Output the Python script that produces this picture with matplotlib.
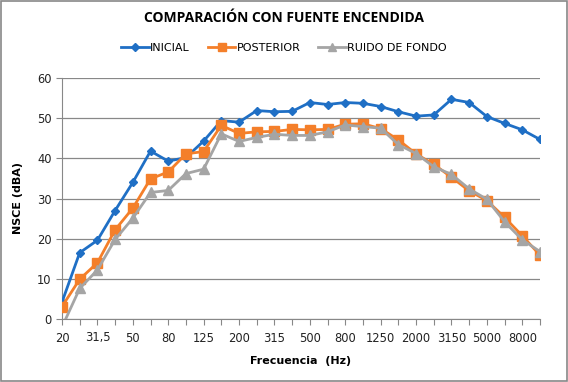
import numpy as np
import matplotlib
matplotlib.use("Agg")
import matplotlib.pyplot as plt
from matplotlib.patches import Rectangle

# bandas de tercio de octava
bandas = ["20", "25", "31,5", "40", "50", "63", "80", "100", "125", "160",
          "200", "250", "315", "400", "500", "630", "800", "1000", "1250", "1600",
          "2000", "2500", "3150", "4000", "5000", "6300", "8000", "10000"]

inicial = [4.2, 16.5, 19.6, 27.0, 34.0, 41.8, 39.3, 40.2, 44.3, 49.4,
           49.0, 51.9, 51.6, 51.7, 53.9, 53.4, 53.9, 53.7, 52.9, 51.6,
           50.5, 50.8, 54.7, 53.9, 50.4, 48.7, 47.1, 44.7]

posterior = [3.1, 9.9, 14.0, 22.2, 27.6, 34.9, 36.6, 41.1, 41.7, 48.2,
             46.2, 46.6, 46.7, 47.2, 47.1, 47.2, 48.5, 48.6, 47.4, 44.6,
             41.1, 38.5, 35.3, 31.9, 29.5, 25.3, 20.7, 15.9]

ruido = [-2.0, 7.6, 12.2, 19.8, 25.1, 31.5, 32.0, 36.2, 37.3, 46.1,
         44.2, 45.2, 46.0, 45.7, 45.7, 46.6, 48.3, 47.9, 47.5, 43.4,
         41.2, 37.9, 36.0, 32.4, 29.8, 24.2, 19.7, 16.8]

x = np.arange(len(bandas))

fig = plt.figure(figsize=(5.68, 3.82), dpi=100)
ax = fig.add_axes([62 / 568, 1 - 319 / 382, 478 / 568, 241 / 382])

ax.plot(x, inicial, color="#1F6FC5", lw=2, marker="D", ms=4.5, label="INICIAL", zorder=3)
ax.plot(x, posterior, color="#F47F2A", lw=2, marker="s", ms=6.5, label="POSTERIOR", zorder=4)
ax.plot(x, ruido, color="#A5A5A5", lw=2, marker="^", ms=6.5, label="RUIDO DE FONDO", zorder=5)

ax.set_xlim(0, len(bandas) - 1)
ax.set_ylim(0, 60)
ax.set_yticks(range(0, 61, 10))
ax.set_xticks(x)
ax.set_xticklabels([b if i % 2 == 0 else "" for i, b in enumerate(bandas)])

ax.grid(axis="y", color="#888888", lw=0.9)
ax.set_axisbelow(True)
for s in ["top", "right"]:
    ax.spines[s].set_visible(False)
for s in ["left", "bottom"]:
    ax.spines[s].set_color("#888888")
ax.tick_params(axis="both", colors="#888888", length=4, labelsize=8.3, labelcolor="#222222")
ax.tick_params(axis="x", pad=5)

ax.set_xlabel("Frecuencia  (Hz)", fontsize=8, labelpad=8, fontweight="bold")
ax.set_ylabel("NSCE (dBA)", fontsize=8, labelpad=10, fontweight="bold")

fig.text(0.5, 0.953, "COMPARACIÓN CON FUENTE ENCENDIDA", ha="center", va="center",
         fontsize=10, fontweight="bold", family="Open Sans")
ax.legend(loc="center", bbox_to_anchor=(0.5, 0.874), bbox_transform=fig.transFigure,
          ncol=3, frameon=False, fontsize=8, handlelength=2.5, columnspacing=1.6,
          handletextpad=0.1, markerscale=0.8)

fig.patches.append(Rectangle((0.001, 0.002), 0.997, 0.995, transform=fig.transFigure,
                             fill=False, edgecolor="#888888", lw=1.2))

fig.savefig("out.png", dpi=100)
